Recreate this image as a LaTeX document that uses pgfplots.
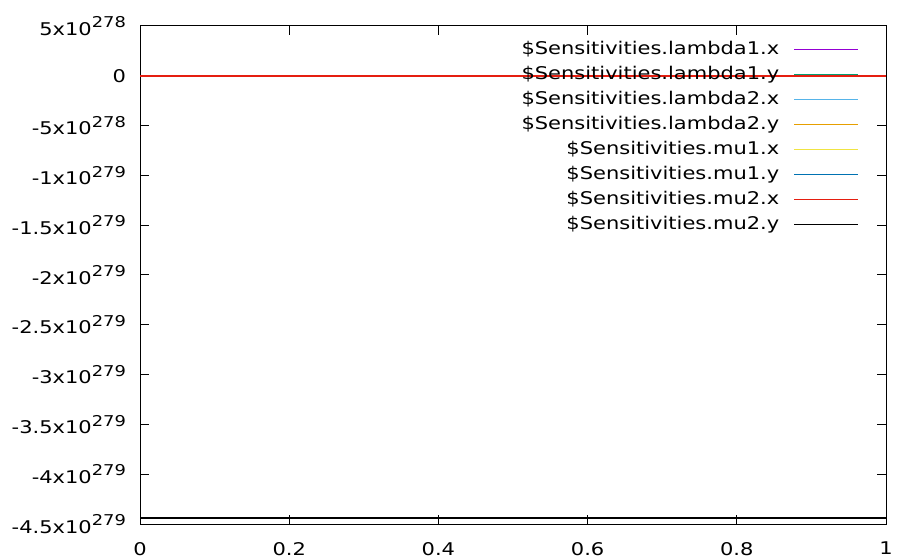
\documentclass[border=0pt]{standalone}
\usepackage{fontspec}
\setmainfont{DejaVu Sans}[FakeStretch=1.2]
\usepackage{pgfplots}
\pgfplotsset{compat=1.18}
\definecolor{cA}{RGB}{148,0,211}
\definecolor{cB}{RGB}{0,158,115}
\definecolor{cC}{RGB}{86,180,233}
\definecolor{cD}{RGB}{230,159,0}
\definecolor{cE}{RGB}{240,228,66}
\definecolor{cF}{RGB}{0,114,178}
\definecolor{cG}{RGB}{229,30,16}
\definecolor{cH}{RGB}{0,0,0}
\newcommand{\sci}[2]{#1x10\raisebox{7.3bp}{\fontsize{14.9bp}{16bp}\selectfont #2}}
\begin{document}
\fontsize{17.5bp}{21bp}\selectfont
\begin{tikzpicture}
\begin{axis}[
  at={(140bp,35bp)}, anchor=south west,
  scale only axis, width=746bp, height=498bp,
  xmin=0, xmax=1, ymin=-45, ymax=5,
  xtick={0,0.2,0.4,0.6,0.8,1},
  xticklabels={0,0.2,0.4,0.6,0.8,1},
  ytick={-45,-40,-35,-30,-25,-20,-15,-10,-5,0,5},
  yticklabels={{\sci{-4.5}{279}},{\sci{-4}{279}},{\sci{-3.5}{279}},{\sci{-3}{279}},{\sci{-2.5}{279}},{\sci{-2}{279}},{\sci{-1.5}{279}},{\sci{-1}{279}},{\sci{-5}{278}},{0},{\sci{5}{278}}},
  tick label style={font=\fontsize{17.5bp}{21bp}\selectfont},
  yticklabel style={xshift=-8bp},
  xticklabel style={inner sep=0pt, yshift=-18bp},
  tick align=inside, major tick length=9bp,
  tick style={black, line width=1bp},
  axis line style={line width=1bp},
  legend style={at={(0.9638,0.970)}, anchor=north east, draw=none, fill=none,
    inner sep=0pt, row sep=8bp, column sep=14bp,
    nodes={inner sep=0pt, text height=13bp, text depth=4bp},
    font=\fontsize{17.5bp}{21bp}\selectfont},
  legend cell align=right,
  legend plot pos=right,
  legend image code/.code={\draw[#1] (0bp,0bp) -- (64bp,0bp);},
]
\addplot[draw=cA, line width=1.5bp] coordinates {(0,0) (1,0)};
\addlegendentry{\$Sensitivities.lambda1.x}
\addplot[draw=cB, line width=1.5bp] coordinates {(0,0) (1,0)};
\addlegendentry{\$Sensitivities.lambda1.y}
\addplot[draw=cC, line width=1.5bp] coordinates {(0,0) (1,0)};
\addlegendentry{\$Sensitivities.lambda2.x}
\addplot[draw=cD, line width=1.5bp] coordinates {(0,0) (1,0)};
\addlegendentry{\$Sensitivities.lambda2.y}
\addplot[draw=cE, line width=1.5bp] coordinates {(0,0) (1,0)};
\addlegendentry{\$Sensitivities.mu1.x}
\addplot[draw=cF, line width=1.5bp] coordinates {(0,0) (1,0)};
\addlegendentry{\$Sensitivities.mu1.y}
\addplot[draw=cG, line width=1.5bp] coordinates {(0,0) (1,0)};
\addlegendentry{\$Sensitivities.mu2.x}
\addplot[draw=cH, line width=1.5bp] coordinates {(0,-44.4) (1,-44.4)};
\addlegendentry{\$Sensitivities.mu2.y}
\end{axis}
\pgfresetboundingbox
\path[use as bounding box] (0,0) rectangle (897bp,559bp);
\end{tikzpicture}
\end{document}
